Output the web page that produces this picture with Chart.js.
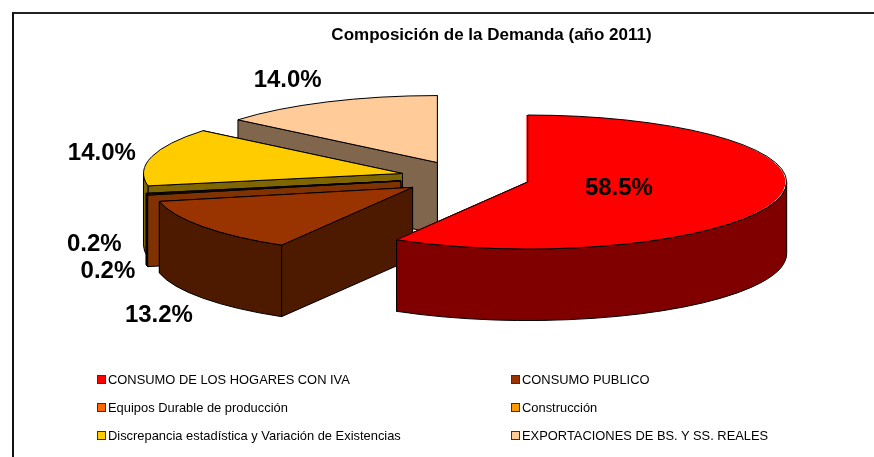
<!DOCTYPE html>
<html>
<head>
<meta charset="utf-8">
<title>Composición de la Demanda</title>
<script src="https://cdn.jsdelivr.net/npm/chart.js@4"></script>
<style>
	html, body { margin: 0; padding: 0; background: #fff; overflow: hidden; }
	#wrap { position: relative; width: 874px; height: 457px; }
	#frame { position: absolute; left: 12px; top: 12px; right: 0; bottom: 0; border-top: 2px solid #222; border-left: 2px solid #111; pointer-events: none; }
	#legend { position: absolute; left: 97px; top: 365px; display: grid; grid-template-columns: 414px auto; grid-auto-rows: 28px; font: 12.9px 'Liberation Sans', Arial, sans-serif; color: #000; }
	#legend div { display: flex; align-items: center; white-space: nowrap; }
	#legend i { display: inline-block; box-sizing: border-box; width: 9px; height: 9px; border: 1px solid #333; margin-right: 2px; }
</style>
</head>
<body>
<div id="wrap">
	<canvas id="chart" width="874" height="457"></canvas>
	<div id="frame"></div>
	<div id="legend"></div>
</div>
<script>
const categories = [
	'CONSUMO DE LOS HOGARES CON IVA',
	'CONSUMO PUBLICO',
	'Equipos Durable de producción',
	'Construcción',
	'Discrepancia estadística y Variación de Existencias',
	'EXPORTACIONES DE BS. Y SS. REALES',
]
const shares = [58.5, 13.2, 0.2, 0.2, 14.0, 14.0]
const topColors = ['#ff0000', '#993300', '#ff6600', '#ff9900', '#ffcc00', '#ffcc99']
const wallColors = ['#800000', '#4d1a00', '#803300', '#804d00', '#806600', '#80664d']

// back to front, so nearer slices cover the ones behind
const drawOrder = [5, 4, 3, 2, 1, 0]

// ellipse of the tilted pie in page pixels
const pie = { x: 464.7, y: 177.6, a: 259, b: 67, depth: 71.5 }
const explode = 0.247

// label distance from the slice tip (1 = rim), and how far down the wall it drops
const labelRadial = [0.37, 1.21, 1.16, 1.21, 1.2, 1.36]
const labelDrop = [0, 1.12, 1.04, 0.67, 0, 0.01]

class Pie3dController extends Chart.PieController {
	draw() {
		const ctx = this.chart.ctx
		const arcs = this.getMeta().data
		const outer = arcs[0].outerRadius
		const sx = pie.a / outer
		const sy = pie.b / outer

		drawOrder.forEach((i) => {
			const arc = arcs[i]
			const mid = (arc.startAngle + arc.endAngle) / 2
			// arc.draw nudges small slices outward by this much, keep the walls with it
			const fix = 1 - Math.sin(Math.min(Math.PI, arc.circumference))
			const tipX = pie.x + Math.cos(mid) * pie.a * explode
			const tipY = pie.y + Math.sin(mid) * pie.b * explode
			const cx = tipX + Math.cos(mid) * fix * sx
			const cy = tipY + Math.sin(mid) * fix * sy
			const rim = (t) => [cx + Math.cos(t) * pie.a, cy + Math.sin(t) * pie.b]

			ctx.save()
			ctx.lineWidth = 1
			ctx.lineJoin = 'round'
			ctx.strokeStyle = '#000'
			ctx.fillStyle = wallColors[i]

			// radial walls, the one further back first
			const edges = [arc.startAngle, arc.endAngle].sort((p, q) => rim(p)[1] - rim(q)[1])
			edges.forEach((t) => {
				const [rx, ry] = rim(t)
				ctx.beginPath()
				ctx.moveTo(cx, cy)
				ctx.lineTo(rx, ry)
				ctx.lineTo(rx, ry + pie.depth)
				ctx.lineTo(cx, cy + pie.depth)
				ctx.closePath()
				ctx.fill()
				ctx.stroke()
			})

			// outer wall, only the front half of the rim can be seen
			const t0 = Math.max(arc.startAngle, 0)
			const t1 = Math.min(arc.endAngle, Math.PI)
			if (t1 > t0) {
				ctx.beginPath()
				ctx.ellipse(cx, cy, pie.a, pie.b, 0, t0, t1)
				ctx.ellipse(cx, cy + pie.depth, pie.a, pie.b, 0, t1, t0, true)
				ctx.closePath()
				ctx.fill()
				ctx.stroke()
			}
			ctx.restore()

			// top face is the library's own arc, squashed into the ellipse
			ctx.save()
			ctx.translate(tipX, tipY)
			ctx.scale(sx, sy)
			ctx.translate(-arc.x, -arc.y)
			arc.draw(ctx)
			ctx.restore()

			ctx.save()
			ctx.lineWidth = 1
			ctx.strokeStyle = '#000'
			ctx.beginPath()
			ctx.moveTo(cx, cy)
			ctx.ellipse(cx, cy, pie.a, pie.b, 0, arc.startAngle, arc.endAngle)
			ctx.closePath()
			ctx.stroke()
			ctx.restore()
		})

		// percent labels go on top of everything
		ctx.save()
		ctx.fillStyle = '#000'
		ctx.font = 'bold 24px "Liberation Sans", Arial, sans-serif'
		ctx.textAlign = 'center'
		ctx.textBaseline = 'middle'
		arcs.forEach((arc, i) => {
			const mid = (arc.startAngle + arc.endAngle) / 2
			const cx = pie.x + Math.cos(mid) * pie.a * explode
			const cy = pie.y + Math.sin(mid) * pie.b * explode
			const lx = cx + Math.cos(mid) * pie.a * labelRadial[i]
			const ly = cy + Math.sin(mid) * pie.b * labelRadial[i] + labelDrop[i] * pie.depth
			ctx.fillText(shares[i].toFixed(1) + '%', lx, ly)
		})
		ctx.restore()
	}
}
Pie3dController.id = 'pie3d'
Chart.register(Pie3dController)

new Chart(document.getElementById('chart'), {
	type: 'pie3d',
	data: {
		labels: categories,
		datasets: [
			{
				data: shares,
				backgroundColor: topColors,
				borderWidth: 0,
				hoverOffset: 0,
			},
		],
	},
	options: {
		responsive: false,
		animation: false,
		events: [],
		layout: { padding: { left: 109 } },
		plugins: {
			legend: { display: false },
			tooltip: { enabled: false },
			title: {
				display: true,
				text: 'Composición de la Demanda (año 2011)',
				color: '#000',
				font: { family: '"Liberation Sans", Arial, sans-serif', size: 17, weight: 'bold' },
				padding: { top: 25, bottom: 8 },
			},
		},
	},
})

const legend = document.getElementById('legend')
categories.forEach((name, i) => {
	const row = document.createElement('div')
	const swatch = document.createElement('i')
	swatch.style.background = topColors[i]
	row.append(swatch, name)
	legend.append(row)
})
</script>
</body>
</html>
